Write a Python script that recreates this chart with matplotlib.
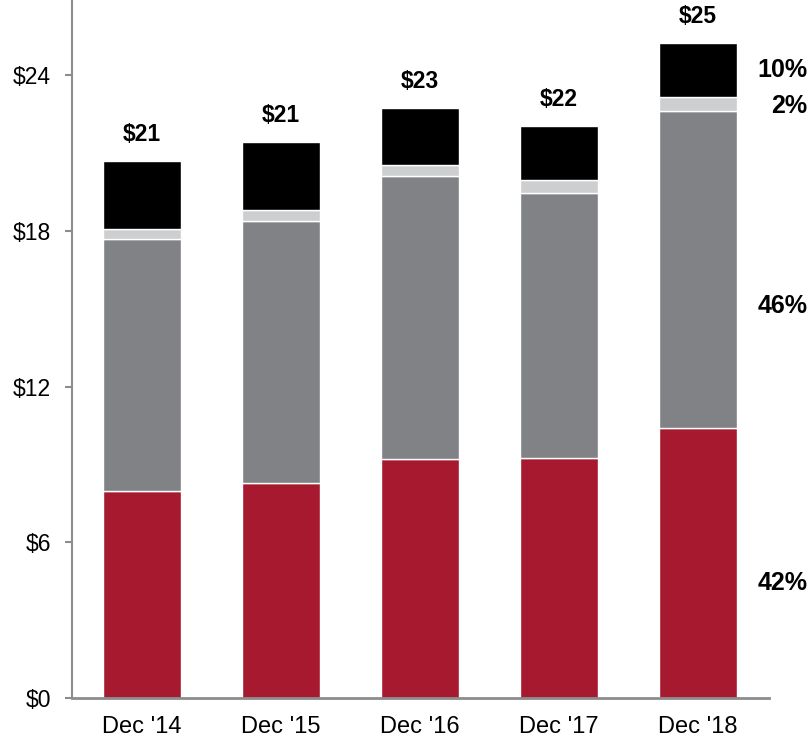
import matplotlib
matplotlib.use("Agg")
import matplotlib.pyplot as plt
import numpy as np

plt.rcParams['font.family'] = ['Liberation Sans', 'DejaVu Sans']

# data (values in $)
years = ["Dec '14", "Dec '15", "Dec '16", "Dec '17", "Dec '18"]
red_vals = [7.97, 8.28, 9.21, 9.25, 10.40]
gray_vals = [9.72, 10.12, 10.89, 10.23, 12.21]
light_vals = [0.37, 0.39, 0.43, 0.47, 0.54]
black_vals = [2.63, 2.63, 2.20, 2.11, 2.08]
total_labels = ["$21", "$21", "$23", "$22", "$25"]
share_labels = ["10%", "2%", "46%", "42%"]
share_y = [24.2, 22.8, 15.1, 4.45]

yticks = [0, 6, 12, 18, 24]
ytick_labels = ["$0", "$6", "$12", "$18", "$24"]

colors = ["#A6192E", "#818285", "#CDCED0", "#000000"]
axis_col = "#8C8C8C"

fig = plt.figure(figsize=(8.1, 7.4), dpi=100)
ax = fig.add_axes([72/810, 42/740, (769-72)/810, 698/740])

x = np.arange(len(years))
bottom = np.zeros(len(years))
for vals, c in zip([red_vals, gray_vals, light_vals, black_vals], colors):
    ax.bar(x, vals, width=0.565, bottom=bottom, color=c,
           edgecolor="white", linewidth=1.0, zorder=2)
    bottom = bottom + np.array(vals)

for xi, top, lab in zip(x, bottom, total_labels):
    ax.annotate(lab, (xi, top), xytext=(0, 19), textcoords="offset points",
                ha="center", va="center", fontsize=16.5, fontweight="bold")

for lab, yv in zip(share_labels, share_y):
    ax.text(4.785, yv, lab, ha="right", va="center", fontsize=18,
            fontweight="bold", clip_on=False)

ax.set_xlim(-0.505, 4.51)
ax.set_ylim(0, 26.9)
ax.set_xticks(x)
ax.set_xticklabels(years, fontsize=17)
ax.set_yticks(yticks)
ax.set_yticklabels(ytick_labels, fontsize=16.5)
ax.tick_params(axis="x", length=0, pad=13)
ax.tick_params(axis="y", length=5, width=1.5, color=axis_col, pad=10)

for s in ["top", "right"]:
    ax.spines[s].set_visible(False)
ax.spines["left"].set_color(axis_col)
ax.spines["left"].set_linewidth(1.5)
ax.spines["bottom"].set_color(axis_col)
ax.spines["bottom"].set_linewidth(2)

fig.savefig("out.png", dpi=100)
